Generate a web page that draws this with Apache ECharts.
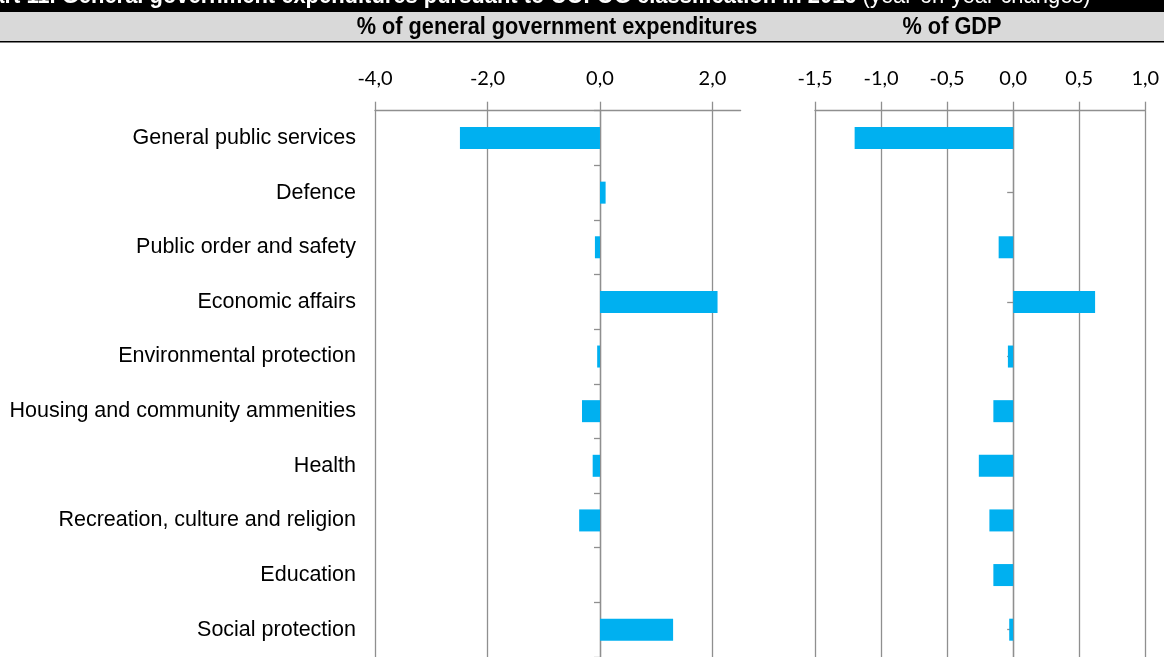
<!DOCTYPE html>
<html>
<head>
<meta charset="utf-8">
<script src="https://cdn.jsdelivr.net/npm/echarts@6/dist/echarts.min.js"></script>
<style>
html,body{margin:0;padding:0;background:#fff;}
#chart{width:1164px;height:657px;}
</style>
</head>
<body>
<div id="chart"></div>
<script>
var categories = [
  'General public services',
  'Defence',
  'Public order and safety',
  'Economic affairs',
  'Environmental protection',
  'Housing and community ammenities',
  'Health',
  'Recreation, culture and religion',
  'Education',
  'Social protection'
];
// % of general government expenditures (y-o-y change)
var shareValues = [-2.49, 0.1, -0.09, 2.09, -0.05, -0.32, -0.13, -0.37, 0, 1.3];
// % of GDP (y-o-y change)
var gdpValues = [-1.2, 0, -0.11, 0.62, -0.04, -0.15, -0.26, -0.18, -0.15, -0.03];

var shareTicks = [-4, -2, 0, 2];
var gdpTicks = [-1.5, -1, -0.5, 0, 0.5, 1];

var titleBold = 'Chart 11. General government expenditures pursuant to COFOG classification in 2016 ';
var titleNormal = '(year-on-year changes)';
var header1 = '% of general government expenditures';
var header2 = '% of GDP';

var gray = '#8f8f8f';
var barColor = '#00b0f0';

function fmt(v){ return v.toFixed(1).replace('.', ','); }

var chart = echarts.init(document.getElementById('chart'));

function valueAxis(gridIndex, min, max, interval, ticks) {
  return {
    type: 'value', gridIndex: gridIndex, position: 'top',
    min: min, max: max, interval: interval,
    axisLine: {show: true, onZero: false, lineStyle: {color: gray, width: 1.3}},
    axisTick: {show: true, length: 9, lineStyle: {color: gray, width: 1.3}, customValues: ticks},
    splitLine: {show: true, lineStyle: {color: gray, width: 1.3}},
    axisLabel: {
      show: true, margin: 22,
      customValues: ticks,
      fontFamily: 'Lato', fontSize: 20, color: '#000',
      formatter: function(v){ return fmt(v); }
    }
  };
}

var option = {
  animation: false,
  backgroundColor: '#fff',
  graphic: [
    {type: 'rect', shape: {x: 0, y: 0, width: 1164, height: 12}, style: {fill: '#000'}, silent: true},
    {type: 'rect', shape: {x: 0, y: 12, width: 1164, height: 29.5}, style: {fill: '#d9d9d9'}, silent: true},
    {type: 'rect', shape: {x: 0, y: 41, width: 1164, height: 1.6}, style: {fill: '#000'}, silent: true},
    {type: 'text', x: -37, y: -4, scaleX: 0.914, silent: true,
      style: {
        text: '{b|' + titleBold + '}{n|' + titleNormal + '}',
        textAlign: 'left', textVerticalAlign: 'middle',
        rich: {
          b: {fontFamily: 'Liberation Sans', fontWeight: 'bold', fontSize: 24, fill: '#fff'},
          n: {fontFamily: 'Liberation Sans', fontWeight: 'normal', fontSize: 24, fill: '#fff'}
        }
      }
    },
    {type: 'text', x: 557, y: 27, scaleX: 0.905, silent: true,
      style: {text: header1, textAlign: 'center', textVerticalAlign: 'middle',
        fontFamily: 'Liberation Sans', fontWeight: 'bold', fontSize: 24, fill: '#000'}},
    {type: 'text', x: 952, y: 27, scaleX: 0.905, silent: true,
      style: {text: header2, textAlign: 'center', textVerticalAlign: 'middle',
        fontFamily: 'Liberation Sans', fontWeight: 'bold', fontSize: 24, fill: '#000'}}
  ],
  grid: [
    {left: 375, top: 110.7, width: 365.6, height: 547},
    {left: 815, top: 110.7, width: 330.3, height: 547}
  ],
  xAxis: [
    valueAxis(0, -4, 2.5, 2, shareTicks),
    valueAxis(1, -1.5, 1.0, 0.5, gdpTicks)
  ],
  yAxis: [
    {type: 'category', gridIndex: 0, data: categories, inverse: true, position: 'left',
      axisLine: {show: false, onZero: false}, axisTick: {show: false},
      splitLine: {show: false},
      axisLabel: {show: true, margin: 19, fontFamily: 'Liberation Sans', fontSize: 21.5, color: '#000'}},
    {type: 'category', gridIndex: 0, data: categories, inverse: true, position: 'left',
      axisLine: {show: true, onZero: true, lineStyle: {color: gray, width: 1.3}},
      axisTick: {show: true, length: 6, alignWithLabel: false, lineStyle: {color: gray, width: 1.3}},
      splitLine: {show: false}, axisLabel: {show: false}},
    {type: 'category', gridIndex: 1, data: categories, inverse: true, position: 'left',
      axisLine: {show: true, onZero: true, lineStyle: {color: gray, width: 1.3}},
      axisTick: {show: true, length: 6, alignWithLabel: true, lineStyle: {color: gray, width: 1.3}},
      splitLine: {show: false}, axisLabel: {show: false}}
  ],
  series: [
    {type: 'bar', xAxisIndex: 0, yAxisIndex: 1, data: shareValues, barWidth: 22,
      itemStyle: {color: barColor}, silent: true},
    {type: 'bar', xAxisIndex: 1, yAxisIndex: 2, data: gdpValues, barWidth: 22,
      itemStyle: {color: barColor}, silent: true}
  ]
};
chart.setOption(option);
</script>
</body>
</html>
